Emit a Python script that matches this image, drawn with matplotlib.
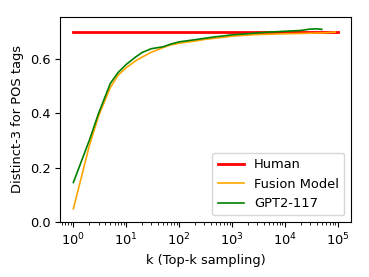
import numpy as np
import matplotlib
matplotlib.use('Agg')
import matplotlib.pyplot as plt

plt.rcParams['font.size'] = 9.4

# values
human_k = [1, 100000]
human_val = [0.70, 0.70]

fusion_k = [1, 2, 3, 5, 7, 10, 15, 20, 30, 50, 70, 100, 200, 300, 500, 700,
            1000, 2000, 3000, 5000, 10000, 20000, 30000, 50000, 90000]
fusion_val = [0.048, 0.28, 0.39, 0.495, 0.54, 0.568, 0.593, 0.607, 0.625, 0.642, 0.652,
              0.658, 0.666, 0.672, 0.677, 0.68, 0.684, 0.688, 0.69, 0.691, 0.693,
              0.694, 0.695, 0.696, 0.699]

gpt2_k = [1, 2, 3, 5, 7, 10, 15, 20, 30, 50, 70, 100, 200, 300, 500, 700,
          1000, 2000, 3000, 5000, 10000, 20000, 30000, 40000, 50000]
gpt2_val = [0.145, 0.30, 0.40, 0.51, 0.55, 0.58, 0.607, 0.624, 0.638, 0.645, 0.655,
            0.663, 0.671, 0.676, 0.682, 0.685, 0.689, 0.693, 0.696, 0.699, 0.702,
            0.705, 0.71, 0.711, 0.709]

fig, ax = plt.subplots(figsize=(3.69, 2.77), dpi=100)
ax.plot(human_k, human_val, color='red', linewidth=2, label='Human')
ax.plot(fusion_k, fusion_val, color='orange', linewidth=1.2, label='Fusion Model')
ax.plot(gpt2_k, gpt2_val, color='green', linewidth=1.2, label='GPT2-117')

ax.set_xscale('log')
ax.set_ylim(0, 0.755)
ax.set_yticks([0.0, 0.2, 0.4, 0.6])
ax.set_xticks([1, 10, 100, 1000, 10000, 100000])
ax.set_xlabel('k (Top-k sampling)')
ax.set_ylabel('Distinct-3 for POS tags')
ax.legend(loc='lower right')

fig.subplots_adjust(left=0.163, right=0.951, top=0.939, bottom=0.199)
fig.savefig('out.png', dpi=100)
